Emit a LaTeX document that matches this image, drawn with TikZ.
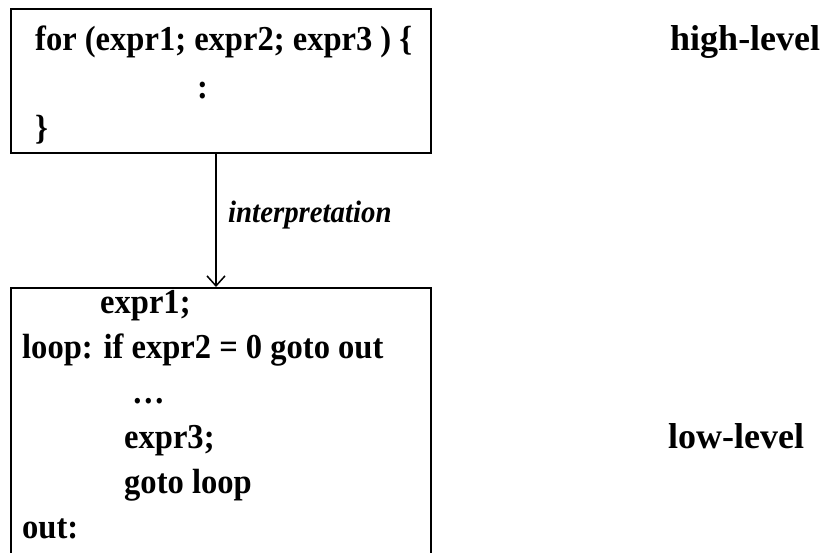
\documentclass[tikz,border=0pt]{standalone}
\usepackage{fontspec}
\setmainfont{Liberation Serif}
\newfontfamily\codefont[FakeStretch=0.93]{Liberation Serif}
\usetikzlibrary{arrows.meta}
\begin{document}
\begin{tikzpicture}[x=1pt,y=-1pt,
  code/.style={anchor=base west, inner sep=0pt, font=\codefont\fontsize{35}{42}\selectfont\bfseries},
  tag/.style={anchor=base west, inner sep=0pt, font=\fontsize{36}{43}\selectfont\bfseries},
  note/.style={anchor=base west, inner sep=0pt, font=\codefont\fontsize{31}{37}\selectfont\bfseries\itshape},
  frame/.style={draw, line width=1.8pt, inner sep=0pt, anchor=north west},
  flow/.style={draw, line width=1.5pt, -{Straight Barb[length=10pt,width=18pt,line width=1.5pt]}}]
\useasboundingbox (0,0) rectangle (824,552);
\clip (0,0) rectangle (824,552);
% the two code frames (the lower one runs past the bottom edge)
\node[frame, minimum width=420pt, minimum height=144pt] (hi) at (10,8) {};
\node[frame, minimum width=420pt, minimum height=300pt] (lo) at (10,287) {};
\coordinate (axis) at (216,0);
\draw[flow] (hi.south -| axis) -- (lo.north -| axis);
\node[note] (interp) at (228,222) {interpretation};
% high-level code
\node[code] (h1) at (35,50) {for (expr1; expr2; expr3 ) \{};
\node[code] (h2) at (197,98) {:};
\node[code] (h3) at (35,139) {\}};
% low-level code
\node[code] (l1) at (100,313) {expr1;};
\node[code] (l2) at (22,358) {loop: if expr2 = 0 goto out};
\node[code] (l3) at (132,403) {…};
\node[code] (l4) at (124,448) {expr3;};
\node[code] (l5) at (124,493) {goto loop};
\node[code] (l6) at (22,538) {out:};
% level tags
\node[tag] (thi) at (670,50) {high-level};
\node[tag] (tlo) at (668,448) {low-level};
\end{tikzpicture}
\end{document}
